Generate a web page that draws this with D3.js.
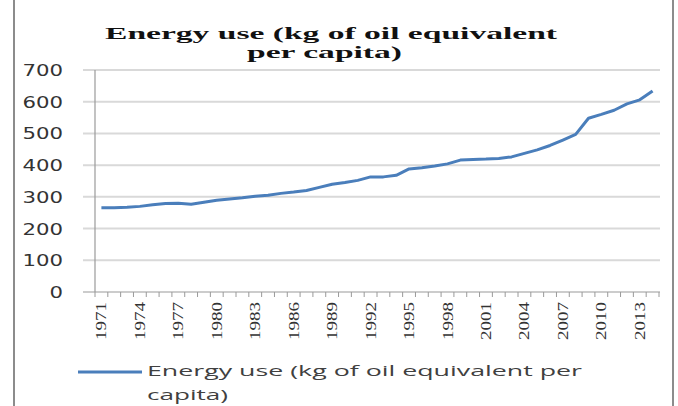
<!DOCTYPE html>
<html>
<head>
<meta charset="utf-8">
<script src="https://cdn.jsdelivr.net/npm/d3@7"></script>
<style>
  body { margin: 0; background: #fff; }
  svg { display: block; }
</style>
</head>
<body>
<svg id="chart" width="678" height="406"></svg>
<script>
// years on the category axis
const years = d3.range(1971, 2015)
// energy use, kg of oil equivalent per capita
const energyUse = [
  266, 266, 267, 270, 275, 279, 280, 277, 283, 289,
  293, 297, 302, 305, 311, 315, 320, 330, 340, 345,
  352, 363, 363, 368, 388, 392, 397, 404, 416, 418,
  419, 421, 426, 437, 448, 462, 479, 497, 548, 560,
  573, 593, 606, 634
]
const yTicks = [0, 100, 200, 300, 400, 500, 600, 700]
const xLabelYears = d3.range(1971, 2015, 3)
const titleLines = ['Energy use (kg of oil equivalent', 'per capita)']
const legendLines = ['Energy use (kg of oil equivalent per', 'capita)']

function makeChart() {
  const svg = d3.select('#chart')
  const blue = '#4a7ebb'

  // outer frame: only the left and right edges show
  svg.append('line').attr('x1', 14).attr('x2', 14).attr('y1', 0).attr('y2', 406)
    .attr('stroke', '#8c8c8c').attr('stroke-width', 2)
  svg.append('line').attr('x1', 673).attr('x2', 673).attr('y1', 0).attr('y2', 406)
    .attr('stroke', '#8c8c8c').attr('stroke-width', 2)

  // scales
  const x = d3.scaleBand().domain(years).range([95, 659])
  const y = d3.scaleLinear().domain([0, 700]).range([292, 70])
  const cx = d => x(d) + x.bandwidth() / 2

  // gridlines (they also make the left tick marks)
  svg.append('g').selectAll('line')
    .data(yTicks.filter(d => d > 0))
    .enter().append('line')
    .attr('x1', 83).attr('x2', 660)
    .attr('y1', d => y(d)).attr('y2', d => y(d))
    .attr('stroke', '#d9d9d9').attr('stroke-width', 2)

  // y axis labels, widened like the reference
  svg.append('g').selectAll('text')
    .data(yTicks)
    .enter().append('text')
    .attr('x', 63).attr('y', d => y(d) + 6)
    .attr('text-anchor', 'end')
    .attr('textLength', d => String(d).length * 13.5)
    .attr('lengthAdjust', 'spacingAndGlyphs')
    .attr('font-family', 'DejaVu Sans').attr('font-size', 16)
    .attr('fill', '#333')
    .text(d => d)

  // y axis line
  svg.append('line').attr('x1', 95).attr('x2', 95).attr('y1', 70).attr('y2', 292)
    .attr('stroke', '#9a9a9a').attr('stroke-width', 1.2)

  // x axis line and ticks at band edges
  svg.append('line').attr('x1', 83).attr('x2', 660).attr('y1', 292).attr('y2', 292)
    .attr('stroke', '#9a9a9a').attr('stroke-width', 1.2)
  const edges = years.map(d => x(d)).concat([x(years[years.length - 1]) + x.bandwidth()])
  svg.append('g').selectAll('line')
    .data(edges)
    .enter().append('line')
    .attr('x1', d => d).attr('x2', d => d)
    .attr('y1', 292).attr('y2', 297)
    .attr('stroke', '#9a9a9a').attr('stroke-width', 1)

  // x labels, rotated
  svg.append('g').selectAll('text')
    .data(xLabelYears)
    .enter().append('text')
    .attr('transform', d => `translate(${cx(d) + 5}, 302) rotate(-90)`)
    .attr('text-anchor', 'end')
    .attr('textLength', 38).attr('lengthAdjust', 'spacingAndGlyphs')
    .attr('font-family', 'Liberation Serif').attr('font-size', 14)
    .attr('fill', '#333')
    .text(d => d)

  // data line
  const line = d3.line()
    .x((d, i) => cx(years[i]))
    .y(d => y(d))
  svg.append('path')
    .datum(energyUse)
    .attr('d', line)
    .attr('fill', 'none')
    .attr('stroke', blue)
    .attr('stroke-width', 3)
    .attr('stroke-linejoin', 'round')

  // title
  const titleLayout = [
    { x: 105, y: 39, len: 452 },
    { x: 247, y: 58, len: 155 }
  ]
  svg.append('g').selectAll('text')
    .data(titleLines)
    .enter().append('text')
    .attr('x', (d, i) => titleLayout[i].x)
    .attr('y', (d, i) => titleLayout[i].y)
    .attr('textLength', (d, i) => titleLayout[i].len)
    .attr('lengthAdjust', 'spacingAndGlyphs')
    .attr('font-family', 'Liberation Serif').attr('font-weight', 'bold')
    .attr('font-size', 17).attr('fill', '#111')
    .text(d => d)

  // legend
  svg.append('line').attr('x1', 78).attr('x2', 142).attr('y1', 372).attr('y2', 372)
    .attr('stroke', blue).attr('stroke-width', 3)
  const legendLayout = [
    { y: 376, len: 435 },
    { y: 400, len: 81 }
  ]
  svg.append('g').selectAll('text')
    .data(legendLines)
    .enter().append('text')
    .attr('x', 147)
    .attr('y', (d, i) => legendLayout[i].y)
    .attr('textLength', (d, i) => legendLayout[i].len)
    .attr('lengthAdjust', 'spacingAndGlyphs')
    .attr('font-family', 'Open Sans').attr('font-size', 15)
    .attr('fill', '#404040')
    .text(d => d)
}

window.onload = makeChart
</script>
</body>
</html>
